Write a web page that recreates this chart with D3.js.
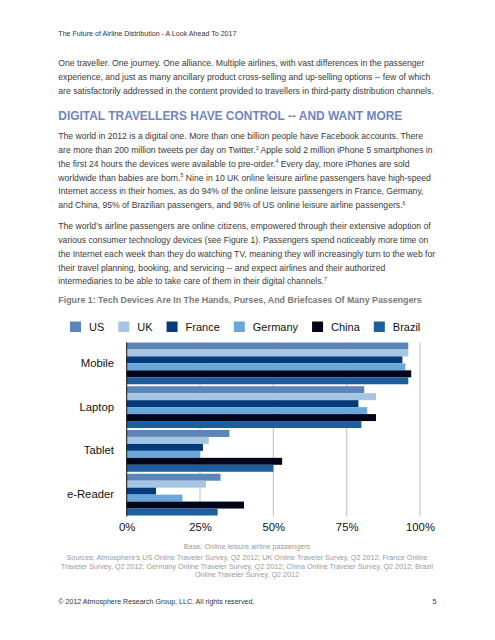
<!DOCTYPE html>
<html>
<head>
<meta charset="utf-8">
<script src="https://cdn.jsdelivr.net/npm/d3@7"></script>
<style>
html,body{margin:0;padding:0;background:#fff;}
svg{display:block;font-family:"Liberation Sans",Arial,Helvetica,sans-serif;}
</style>
</head>
<body>
<svg id="page" width="495" height="640"></svg>
<script>
// ---- data ----
const categories = ["Mobile", "Laptop", "Tablet", "e-Reader"];
const series = ["US", "UK", "France", "Germany", "China", "Brazil"];
const usValues      = [96, 81, 35, 32];
const ukValues      = [96, 85, 28, 27];
const franceValues  = [94, 79, 26, 10];
const germanyValues = [95, 82, 25, 19];
const chinaValues   = [97, 85, 53, 40];
const brazilValues  = [96, 80, 50, 31];
const tickValues = [0, 25, 50, 75, 100];
const tickLabels = ["0%", "25%", "50%", "75%", "100%"];
const seriesColors = ["#5b86b7", "#a5c5e3", "#053b7a", "#6aa8dc", "#03061a", "#1c5d9e"];

const headerText = "The Future of Airline Distribution - A Look Ahead To 2017";
const para1 = [
  "One traveller. One journey. One alliance. Multiple airlines, with vast differences in the passenger",
  "experience, and just as many ancillary product cross-selling and up-selling options -- few of which",
  "are satisfactorily addressed in the content provided to travellers in third-party distribution channels."
];
const headingText = "DIGITAL TRAVELLERS HAVE CONTROL -- AND WANT MORE";
const para2 = [
  ["The world in 2012 is a digital one. More than one billion people have Facebook accounts. There", ""],
  ["are more than 200 million tweets per day on Twitter.", "3", " Apple sold 2 million iPhone 5 smartphones in"],
  ["the first 24 hours the devices were available to pre-order.", "4", " Every day, more iPhones are sold"],
  ["worldwide than babies are born.", "5", " Nine in 10 UK online leisure airline passengers have high-speed"],
  ["Internet access in their homes, as do 94% of the online leisure passengers in France, Germany,", ""],
  ["and China, 95% of Brazilian passengers, and 98% of US online leisure airline passengers.", "6"]
];
const para3 = [
  ["The world\u2019s airline passengers are online citizens, empowered through their extensive adoption of", ""],
  ["various consumer technology devices (see Figure 1). Passengers spend noticeably more time on", ""],
  ["the Internet each week than they do watching TV, meaning they will increasingly turn to the web for", ""],
  ["their travel planning, booking, and servicing -- and expect airlines and their authorized", ""],
  ["intermediaries to be able to take care of them in their digital channels.", "7"]
];
const captionText = "Figure 1: Tech Devices Are In The Hands, Purses, And Briefcases Of Many Passengers";
const baseText = "Base: Online leisure airline passengers";
const sourceLines = [
  "Sources: Atmosphere\u2019s US Online Traveler Survey, Q2 2012; UK Online Traveler Survey, Q2 2012; France Online",
  "Traveler Survey, Q2 2012; Germany Online Traveler Survey, Q2 2012; China Online Traveler Survey, Q2 2012; Brazil",
  "Online Traveler Survey, Q2 2012"
];
const footerText = "\u00A9 2012 Atmosphere Research Group, LLC. All rights reserved.";
const pageNumber = "5";

const valuesBySeries = [usValues, ukValues, franceValues, germanyValues, chinaValues, brazilValues];

// ---- page ----
const svg = d3.select("#page");
svg.append("rect").attr("width", 495).attr("height", 640).attr("fill", "#fff");

const leftX = 58.3;
const bodyColor = "#3a3a3a";
const bodySize = 8.65;

svg.append("text").attr("x", leftX).attr("y", 35.8).attr("font-size", 7.1).attr("fill", "#333").text(headerText);

para1.forEach((t, i) => {
  svg.append("text").attr("x", leftX).attr("y", 66.3 + i * 13.7)
    .attr("font-size", bodySize).attr("fill", bodyColor).text(t);
});

svg.append("text").attr("x", leftX).attr("y", 120.3)
  .attr("font-size", 11.95).attr("font-weight", "bold").attr("fill", "#6e86c1").text(headingText);

function drawPara(lines, y0) {
  lines.forEach((parts, i) => {
    const t = svg.append("text").attr("x", leftX).attr("y", y0 + i * 13.8)
      .attr("font-size", bodySize).attr("fill", bodyColor);
    parts.forEach((p, j) => {
      if (!p) return;
      const ts = t.append("tspan").text(p);
      if (j === 1) ts.attr("font-size", 5.2).attr("dy", -3.4);
      if (j === 2) ts.attr("dy", 3.4);
    });
  });
}
drawPara(para2, 139.2);
drawPara(para3, 229.2);

svg.append("text").attr("x", leftX).attr("y", 303.2)
  .attr("font-size", 8.9).attr("font-weight", "bold").attr("fill", "#7a7a7a")
  .text(captionText)
  .each(function () {
    // fit caption to its printed width
    const w = this.getComputedTextLength();
    d3.select(this).attr("font-size", 8.9 * 363 / w);
  });

// ---- chart ----
const x = d3.scaleLinear().domain([0, 100]).range([126.7, 420]);
const y = d3.scaleBand().domain(categories).range([342.5, 515.5]).paddingInner(0.045).paddingOuter(0);
const yInner = d3.scaleBand().domain(series).range([0, y.bandwidth()]).padding(0);
const color = d3.scaleOrdinal().domain(series).range(seriesColors);

// gridlines
const grid = svg.append("g").attr("class", "grid");
grid.selectAll("line").data(tickValues.filter(v => v > 0)).join("line")
  .attr("x1", d => x(d)).attr("x2", d => x(d))
  .attr("y1", 342.5).attr("y2", 516.5)
  .attr("stroke", "#c9c9c9").attr("stroke-width", 1.2);

// bars
const rows = [];
categories.forEach((c, ci) => series.forEach((s, si) => rows.push({cat: c, ser: s, val: valuesBySeries[si][ci]})));
svg.append("g").selectAll("rect").data(rows).join("rect")
  .attr("x", x(0))
  .attr("y", d => y(d.cat) + yInner(d.ser))
  .attr("width", d => x(d.val) - x(0))
  .attr("height", yInner.bandwidth())
  .attr("fill", d => color(d.ser));

// axis line at 0
svg.append("line").attr("x1", x(0)).attr("x2", x(0)).attr("y1", 342.5).attr("y2", 516.5)
  .attr("stroke", "#111").attr("stroke-width", 1);

// category labels
const yAxis = d3.axisLeft(y).tickSize(0).tickPadding(0);
const yg = svg.append("g").attr("transform", `translate(114,0)`).call(yAxis);
yg.select(".domain").remove();
yg.selectAll("text").attr("font-size", 11.3).attr("fill", "#111").attr("font-family", "Liberation Sans, Arial, sans-serif");

// x tick labels
const xAxis = d3.axisBottom(x).tickValues(tickValues).tickFormat((d, i) => tickLabels[i]).tickSize(0).tickPadding(0);
const xg = svg.append("g").attr("transform", `translate(0,523)`).call(xAxis);
xg.select(".domain").remove();
xg.selectAll("text").attr("font-size", 11.3).attr("fill", "#111").attr("dy", "0.71em").attr("font-family", "Liberation Sans, Arial, sans-serif");

// legend
const legend = svg.append("g");
let lx = 70;
series.forEach((s, i) => {
  legend.append("rect").attr("x", lx).attr("y", 321.5).attr("width", 11).attr("height", 10.5).attr("fill", color(s));
  const t = legend.append("text").attr("x", lx + 19).attr("y", 330.8).attr("font-size", 11).attr("fill", "#111").text(s);
  lx = lx + 19 + t.node().getComputedTextLength() + 14;
});

// notes
svg.append("text").attr("x", 247).attr("y", 549).attr("text-anchor", "middle")
  .attr("font-size", 7.3).attr("fill", "#9a9a9a").text(baseText);
sourceLines.forEach((t, i) => {
  svg.append("text").attr("x", 247).attr("y", 560.3 + i * 8.2).attr("text-anchor", "middle")
    .attr("font-size", 7.2).attr("fill", "#9a9a9a").text(t);
});

svg.append("text").attr("x", leftX).attr("y", 603.8).attr("font-size", 7.1).attr("fill", "#333").text(footerText);
svg.append("text").attr("x", 436.5).attr("y", 603.8).attr("text-anchor", "end").attr("font-size", 7.1).attr("fill", "#333").text(pageNumber);
</script>
</body>
</html>
